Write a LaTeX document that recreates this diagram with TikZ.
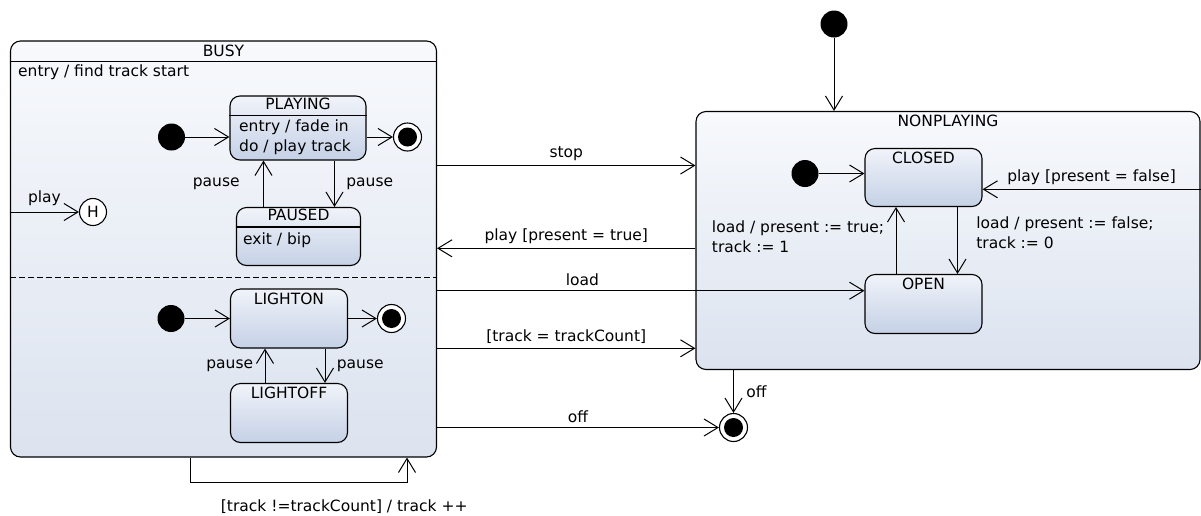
\documentclass[tikz,border=0pt]{standalone}
\usepackage{fontspec}
\setmainfont{DejaVu Sans}
\usetikzlibrary{arrows.meta,calc}
\definecolor{cmptop}{HTML}{F7F9FC}
\definecolor{cmpbot}{HTML}{DCE3EF}
\definecolor{sttop}{HTML}{F0F3F9}
\definecolor{stbot}{HTML}{C5D1E6}
\tikzset{
  composite/.style={
    draw,
    rounded corners=10pt,
    top color=cmptop,
    bottom color=cmpbot,
    line width=1.1pt,
    inner sep=0
  },
  simplestate/.style={
    draw,
    rounded corners=10pt,
    top color=sttop,
    bottom color=stbot,
    line width=1.1pt,
    inner sep=0
  },
  sttitle/.style={
    anchor=north,
    inner sep=1pt,
    yshift=-3pt
  },
  initstate/.style={
    shape = circle,
    fill,
    minimum size=27pt,
    inner sep=0
  },
  finalstate/.style={
    shape = circle,
    draw,
    fill=white,
    line width=1.1pt,
    minimum size=28pt,
    inner sep=0,
    path picture={\fill[black] (path picture bounding box.center) circle (9.5pt);}
  },
  histstate/.style={
    shape = circle,
    draw,
    fill=white,
    line width=1.1pt,
    minimum size=27pt,
    inner sep=0
  },
  trans/.style={
    line width=1pt,
    -{Straight Barb[length=14pt,width=17pt,line width=1pt]}
  },
  every picture/.style = {
    x=1pt, y=-1pt,
    font=\fontsize{15.5}{20}\selectfont
  }
}

\begin{document}
\begin{tikzpicture}
  \useasboundingbox (0,0) rectangle (1201,515);

  % composite states
  \node[composite, minimum width=426pt, minimum height=416pt,
        label={[anchor=north, inner sep=2pt, yshift=-2pt]north:BUSY}] (busy) at (223.5,249) {};
  \draw[line width=1.1pt] ([yshift=-21pt]busy.north west) -- ([yshift=-21pt]busy.north east);
  \draw[dash pattern=on 6pt off 3pt, line width=1.1pt] ([yshift=-237pt]busy.north west) -- ([yshift=-237pt]busy.north east);
  \node[anchor=west, inner sep=0] (busyentry) at (18,72) {entry / find track start};

  \node[composite, minimum width=504pt, minimum height=258pt,
        label={[anchor=north, inner sep=2pt, yshift=-2pt]north:NONPLAYING}] (nonplaying) at (948,240.5) {};

  % busy, upper region
  \node[simplestate, minimum width=136pt, minimum height=64pt,
        label={[anchor=north, inner sep=1pt, yshift=-1pt]north:PLAYING}] (playing) at (298,128) {};
  \draw[line width=1.1pt] ([yshift=-20pt]playing.north west) -- ([yshift=-20pt]playing.north east);
  \node[anchor=west, align=left, inner sep=0] (playdo) at (239,137) {entry / fade in\\do / play track};
  \node[simplestate, minimum width=124pt, minimum height=58pt,
        label={[anchor=north, inner sep=1pt, yshift=-1pt]north:PAUSED}] (paused) at (298.5,236.5) {};
  \draw[line width=1.1pt] ([yshift=-20pt]paused.north west) -- ([yshift=-20pt]paused.north east);
  \node[anchor=west, inner sep=0] (pausedexit) at (243,240) {exit / bip};

  \node[initstate] (init1) at (171.5,137) {};
  \node[finalstate] (fin1) at (407.5,137) {};
  \node[histstate] (hist) at (93,212) {H};

  \draw[trans] (init1) -- (playing.west |- init1);
  \draw[trans] (playing.east |- fin1) -- (fin1);
  \draw[trans] ([xshift=-35pt]paused.north) -- ([xshift=-35pt]paused.north |- playing.south)
    node[midway, left=20pt] {pause};
  \draw[trans] ([xshift=36.5pt]playing.south) -- ([xshift=36.5pt]playing.south |- paused.north)
    node[midway, right=8pt] {pause};
  \draw[trans] (busy.west |- hist) -- (hist) node[midway, above=2pt] {play};

  % busy, lower region
  \node[simplestate, minimum width=117pt, minimum height=59pt,
        label={[sttitle]north:LIGHTON}] (lighton) at (289,318.5) {};
  \node[simplestate, minimum width=117pt, minimum height=59pt,
        label={[sttitle]north:LIGHTOFF}] (lightoff) at (289,413) {};
  \node[initstate] (init2) at (171,318.5) {};
  \node[finalstate] (fin2) at (391.5,318.5) {};

  \draw[trans] (init2) -- (lighton.west |- init2);
  \draw[trans] (lighton.east |- fin2) -- (fin2);
  \draw[trans] ([xshift=-24pt]lightoff.north) -- ([xshift=-24pt]lightoff.north |- lighton.south)
    node[midway, left=8pt] {pause};
  \draw[trans] ([xshift=36pt]lighton.south) -- ([xshift=36pt]lighton.south |- lightoff.north)
    node[midway, right=8pt] {pause};

  % nonplaying inside
  \node[simplestate, minimum width=117pt, minimum height=58pt,
        label={[sttitle]north:CLOSED}] (closed) at (923.5,177.5) {};
  \node[simplestate, minimum width=117pt, minimum height=59pt,
        label={[sttitle]north:OPEN}] (open) at (923.5,304) {};
  \node[initstate] (init3) at (805,173.5) {};
  \node[initstate] (init0) at (834,24) {};
  \node[finalstate] (fin3) at (733.5,427.5) {};

  \draw[trans] (init3) -- (closed.west |- init3);
  \draw[trans] (init0) -- (init0 |- nonplaying.north);
  \draw[trans] ([xshift=34pt]closed.south) -- ([xshift=34pt]closed.south |- open.north)
    node[midway, right=15pt, align=left, yshift=7.5pt] {load / present := false;\\track := 0};
  \draw[trans] ([xshift=-27.5pt]open.north) -- ([xshift=-27.5pt]open.north |- closed.south)
    node[midway, left=8pt, align=left, yshift=3.5pt] {load / present := true;\\track := 1};
  \draw[trans] ([yshift=-11.8pt]closed.east -| nonplaying.east) -- ([yshift=-11.8pt]closed.east)
    node[midway, above=1pt] {play [present = false]};

  % between the two
  \draw[trans] ([yshift=83.5pt]busy.east) -- ([yshift=83.5pt]busy.east -| nonplaying.west)
    node[midway, above=1pt] {stop};
  \draw[trans] ([yshift=0.7pt]busy.east -| nonplaying.west) -- ([yshift=0.7pt]busy.east)
    node[midway, above=1pt] {play [present = true]};
  \draw[trans] ([yshift=-41.7pt]busy.east) -- ([yshift=-41.7pt]busy.east -| open.west)
    node[pos=0.34, above=1pt] {load};
  \draw[trans] ([yshift=-99.3pt]busy.east) -- ([yshift=-99.3pt]busy.east -| nonplaying.west)
    node[midway, above=1pt] {[track = trackCount]};
  \draw[trans] (busy.east |- fin3) -- (fin3) node[midway, above=1pt] {off};
  \draw[trans] (nonplaying.south -| fin3) -- (fin3) node[midway, right=9pt] {off};
  \draw[trans] ([xshift=-33pt]busy.south) -- ++(0,25) -| ([xshift=183.5pt]busy.south)
    node[pos=0.355, below=13pt] {[track !=trackCount] / track ++};
\end{tikzpicture}
\end{document}
